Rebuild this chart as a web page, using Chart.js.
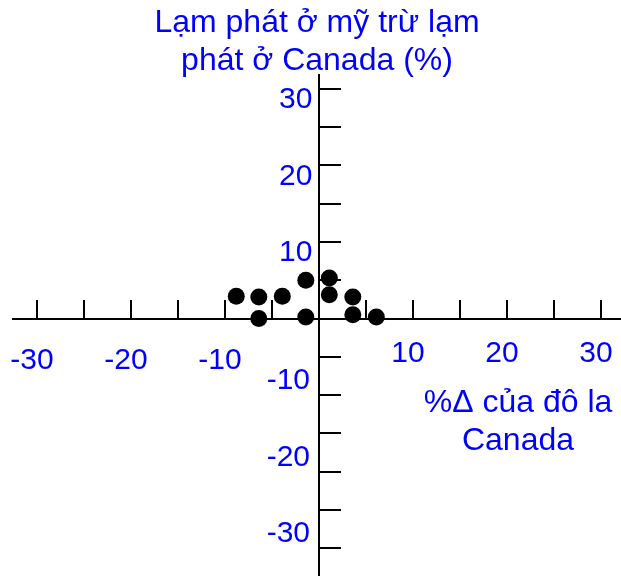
<!DOCTYPE html>
<html>
<head>
<meta charset="utf-8">
<script src="https://cdn.jsdelivr.net/npm/chart.js@4.4.1/dist/chart.umd.min.js"></script>
<style>
  body { margin: 0; background: #fff; }
  #wrap { width: 621px; height: 576px; }
</style>
</head>
<body>
<div id="wrap"><canvas id="myChart"></canvas></div>
<script>
// values
var xValues = [-8.8, -6.4, -3.9, -1.4, 1.1, 1.1, 3.6, -6.4, -1.4, 3.6, 6.1];
var yValues = [2.9, 2.8, 2.9, 5.0, 5.3, 3.1, 2.8, 0.0, 0.2, 0.5, 0.2];
var xTickLabels = [-30, -20, -10, 10, 20, 30];
var yTickLabels = [30, 20, 10, -10, -20, -30];
var titleLines = ["Lạm phát ở mỹ trừ lạm", "phát ở Canada (%)"];
var xTitleLines = ["%Δ của đô la", "Canada"];

var FONT = "'Liberation Sans', Arial, sans-serif";
var BLUE = "#0000ff";

var points = [];
for (let i = 0; i < xValues.length; i++) {
    points.push({x: xValues[i], y: yValues[i]});
}

var xRange = {min: -32.55, max: 32.13};
var yRange = {min: -33.66, max: 31.83};

// only label the multiples of 10, split by sign
function posLabel(list) {
    return function (v) {
        return (v > 0 && list.indexOf(v) >= 0) ? String(v) : "";
    };
}
function negLabel(list) {
    return function (v) {
        return (v < 0 && list.indexOf(v) >= 0) ? String(v) : "";
    };
}

// keep the axes from shrinking the plot area
function noPad(scale) {
    scale.paddingLeft = 0;
    scale.paddingRight = 0;
    scale.paddingTop = 0;
    scale.paddingBottom = 0;
}

// x axis title sits at the lower right
var axisTitle = {
    id: "axisTitle",
    afterDraw(chart) {
        var ctx = chart.ctx;
        ctx.save();
        ctx.fillStyle = BLUE;
        ctx.font = "32px " + FONT;
        ctx.textAlign = "center";
        ctx.textBaseline = "middle";
        ctx.fillText(xTitleLines[0], 518, 403);
        ctx.fillText(xTitleLines[1], 518, 441);
        ctx.restore();
    }
};

function labelAxis(axis, range, pos, ticks) {
    return {
        type: "linear",
        axis: axis,
        position: pos,
        min: range.min, max: range.max,
        border: {display: false},
        grid: {display: false},
        afterFit: noPad,
        ticks: Object.assign({
            stepSize: 5, includeBounds: false, autoSkip: false, maxRotation: 0,
            color: BLUE,
            font: {family: FONT, size: 30}
        }, ticks)
    };
}

new Chart("myChart", {
    type: "scatter",
    data: {
        datasets: [{
            data: points,
            backgroundColor: "#000",
            borderWidth: 0,
            pointRadius: 8.5,
            pointHoverRadius: 8.5,
            clip: false
        }]
    },
    plugins: [axisTitle],
    options: {
        responsive: true,
        maintainAspectRatio: false,
        animation: false,
        layout: {autoPadding: false, padding: {left: 13, right: 0, top: 0, bottom: 0}},
        plugins: {
            legend: {display: false},
            tooltip: {enabled: false},
            title: {
                display: true,
                text: titleLines,
                color: BLUE,
                font: {family: FONT, size: 32, weight: "normal", lineHeight: 1.2},
                padding: {top: 4, bottom: -5.8}
            }
        },
        scales: {
            x: {
                type: "linear",
                position: {y: 0},
                min: xRange.min, max: xRange.max,
                afterFit: noPad,
                border: {display: true, color: "#000", width: 2},
                grid: {drawOnChartArea: false, drawTicks: true, tickLength: -20, color: "#000", lineWidth: 2},
                ticks: {display: false, stepSize: 5, includeBounds: false, autoSkip: false}
            },
            y: {
                type: "linear",
                position: {x: 0},
                min: yRange.min, max: yRange.max,
                afterFit: noPad,
                border: {display: true, color: "#000", width: 2},
                grid: {drawOnChartArea: false, drawTicks: true, tickLength: -23, color: "#000", lineWidth: 2},
                ticks: {display: false, stepSize: 5, includeBounds: false, autoSkip: false}
            },
            xNegLabels: labelAxis("x", xRange, {y: 0}, {padding: 16, labelOffset: -5, callback: negLabel(xTickLabels)}),
            xPosLabels: labelAxis("x", xRange, {y: 0}, {padding: 9, labelOffset: -5, callback: posLabel(xTickLabels)}),
            yPosLabels: labelAxis("y", yRange, {x: -0.7}, {labelOffset: 11, callback: posLabel(yTickLabels)}),
            yNegLabels: labelAxis("y", yRange, {x: -0.95}, {labelOffset: -14, callback: negLabel(yTickLabels)})
        }
    }
});
</script>
</body>
</html>
